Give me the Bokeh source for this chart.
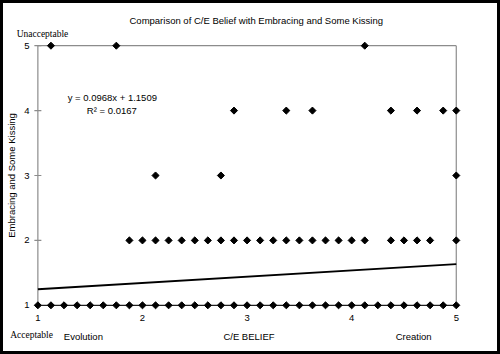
import math
from bokeh.plotting import figure
from bokeh.models import Range1d, Label, ColumnDataSource, FixedTicker, LinearAxis
from bokeh.embed import file_html
from bokeh.resources import INLINE

# ---------------- data ----------------
title_text = "Comparison of C/E Belief with Embracing and Some Kissing"
x_axis_title = "C/E BELIEF"
y_axis_title = "Embracing and Some Kissing"
x_ticks = [1, 2, 3, 4, 5]
y_ticks = [1, 2, 3, 4, 5]
y_top_label = "Unacceptable"
y_bottom_label = "Acceptable"
x_left_label = "Evolution"
x_right_label = "Creation"

# C/E belief scores of respondents, grouped by their rating (1..5)
belief_rating1 = [1.0, 1.125, 1.25, 1.375, 1.5, 1.625, 1.75, 1.875, 2.0, 2.125, 2.25,
                  2.375, 2.5, 2.625, 2.75, 2.875, 3.0, 3.125, 3.25, 3.375, 3.5, 3.625,
                  3.75, 3.875, 4.0, 4.125, 4.25, 4.375, 4.5, 4.625, 4.75, 4.875, 5.0]
belief_rating2 = [1.875, 2.0, 2.125, 2.25, 2.375, 2.5, 2.625, 2.75, 2.875, 3.0, 3.125,
                  3.25, 3.375, 3.5, 3.625, 3.75, 3.875, 4.0, 4.125, 4.375, 4.5, 4.625,
                  4.75, 5.0]
belief_rating3 = [2.125, 2.75, 5.0]
belief_rating4 = [2.875, 3.375, 3.625, 4.375, 4.625, 4.875, 5.0]
belief_rating5 = [1.125, 1.75, 4.125]

slope = 0.0968
intercept = 1.1509
r_squared = 0.0167
trend_x = [1, 5]

# ---------------- build ----------------
xs, ys = [], []
for rating, arr in ((1, belief_rating1), (2, belief_rating2), (3, belief_rating3),
                    (4, belief_rating4), (5, belief_rating5)):
    xs += arr
    ys += [rating] * len(arr)
src = ColumnDataSource(dict(x=xs, y=ys))

BORDER = 3                 # canvas is drawn offset by the 3px black border
W, H = 500, 354
CW, CH = W, H
ML, MR, MT, MB = 25, 42, 37, 47
X0, X1 = 0.92, 5.05
Y0, Y1 = 0.92, 5.08

def dx(px):
    return round(X0 + (px - BORDER - ML) * (X1 - X0) / (CW - ML - MR), 4)

def dy(py):
    return Y1 - (py - BORDER - MT) * (Y1 - Y0) / (CH - MT - MB)

SANS = "Liberation Sans"
SERIF = "Liberation Serif"
FS = "9.5px"

p = figure(width=W, height=H, x_range=Range1d(X0, X1), y_range=Range1d(Y0, Y1),
           output_backend="svg", toolbar_location=None,
           min_border_left=ML, min_border_right=MR, min_border_top=MT, min_border_bottom=MB)
p.styles = {"border": "3px solid black", "box-sizing": "border-box"}
p.outline_line_color = None
p.xgrid.visible = False
p.ygrid.visible = False
p.background_fill_color = "white"
p.border_fill_color = "white"

p.title.text = title_text
p.title.text_font = SANS
p.title.text_font_size = FS
p.title.text_font_style = "normal"
p.title.text_color = "black"
p.title.align = "left"
p.title.offset = 100
p.title.standoff = 0


def style_axis(ax, ticks, standoff, font=SANS, overrides=None):
    ax.ticker = FixedTicker(ticks=ticks)
    ax.axis_line_color = None
    ax.major_tick_line_color = None
    ax.minor_tick_line_color = None
    ax.major_tick_out = 0
    ax.major_tick_in = 0
    ax.major_label_standoff = standoff
    ax.major_label_text_font = font
    ax.major_label_text_font_size = FS
    ax.major_label_text_color = "black"
    if overrides:
        ax.major_label_overrides = overrides
    ax.axis_label_text_font = SANS
    ax.axis_label_text_font_size = FS
    ax.axis_label_text_font_style = "normal"
    ax.axis_label_text_color = "black"


style_axis(p.xaxis[0], x_ticks, 4)
style_axis(p.yaxis[0], y_ticks, 0)
p.yaxis[0].axis_label = y_axis_title
p.yaxis[0].axis_label_standoff = 4

# extra "axes" that carry the end-point captions
top_pos = [dx(41)]
ax_top = LinearAxis()
style_axis(ax_top, top_pos, 2, SERIF, {top_pos[0]: y_top_label})
p.add_layout(ax_top, "above")

cap_pos = [dx(82), dx(248), dx(413)]
ax_cap = LinearAxis()
style_axis(ax_cap, cap_pos, 7, SANS,
           {cap_pos[0]: x_left_label, cap_pos[1]: x_axis_title, cap_pos[2]: x_right_label})
p.add_layout(ax_cap, "below")

acc_pos = [dx(30)]
ax_acc = LinearAxis()
style_axis(ax_acc, acc_pos, -15, SERIF, {acc_pos[0]: y_bottom_label})
p.add_layout(ax_acc, "below")

# plot-area border lines (axes)
gray = "#8c8c8c"
p.segment(x0=[x_ticks[0], x_ticks[0], x_ticks[-1]], y0=[y_ticks[0], y_ticks[-1], y_ticks[-1]],
          x1=[x_ticks[0], x_ticks[-1], x_ticks[-1]], y1=[y_ticks[-1], y_ticks[-1], y_ticks[0]],
          line_color=gray, line_width=1.2)
p.segment(x0=[x_ticks[0]], y0=[y_ticks[0]], x1=[x_ticks[-1]], y1=[y_ticks[0]],
          line_color="#202020", line_width=1.2)
# y tick marks crossing the axis
p.scatter(x=[x_ticks[0]] * len(y_ticks), y=y_ticks, marker="dash", size=7,
          line_color=gray, line_width=1.2)

# trend line
p.line(trend_x, [slope * v + intercept for v in trend_x], line_color="black", line_width=1.8)

# points
p.scatter("x", "y", source=src, marker="square", size=5, angle=math.pi / 4,
          fill_color="black", line_color="black")


def lab(text, px, py):
    p.add_layout(Label(x=dx(px), y=dy(py), text=text, text_font=SANS, text_font_size=FS,
                       text_align="center", text_baseline="middle", text_color="black"))


lab(f"y = {slope}x + {intercept}", 111, 97)
lab(f"R\u00b2 = {r_squared}", 110.5, 110)

open("out.html", "w").write(file_html(p, INLINE))
